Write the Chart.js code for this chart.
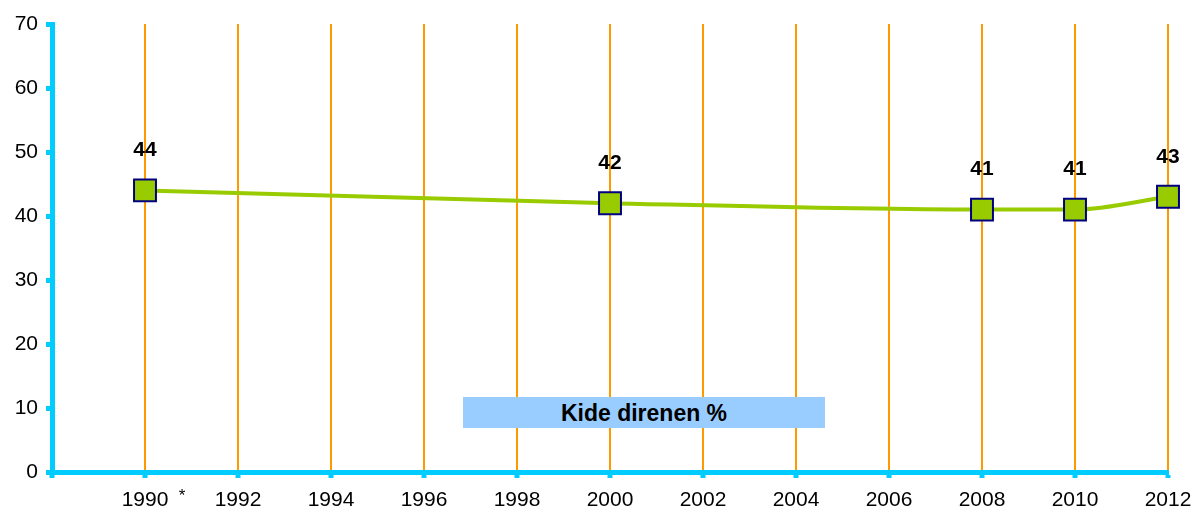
<!DOCTYPE html>
<html>
<head>
<meta charset="utf-8">
<script src="https://cdn.jsdelivr.net/npm/chart.js@4/dist/chart.umd.min.js"></script>
<style>
  html, body { margin: 0; padding: 0; background: #fff; }
  #wrap { position: relative; width: 1194px; height: 512px; }
  #legendBox {
    position: absolute; left: 463px; top: 397px; width: 362px; height: 31px;
    background: #99ccff; font: bold 23px "Liberation Sans", Arial, sans-serif;
    color: #000; text-align: center; line-height: 33px;
  }
</style>
</head>
<body>
<div id="wrap">
  <canvas id="chart" width="1194" height="512"></canvas>
  <div id="legendBox">Kide direnen %</div>
</div>
<script>
    const years = [1990, 2000, 2008, 2010, 2012];
    const values = [44, 42, 41, 41, 43];
    const yTicks = [0, 10, 20, 30, 40, 50, 60, 70];
    const xMin = 1988, xMax = 2012;

    /* ================= LABELS ================= */
    const labelsPlugin = {
        id: 'pointLabels',
        afterDatasetsDraw(chart) {
            const ctx = chart.ctx;
            const meta = chart.getDatasetMeta(0);
            ctx.save();
            ctx.font = 'bold 21px "Liberation Sans", Arial, sans-serif';
            ctx.fillStyle = '#000';
            ctx.textAlign = 'center';
            ctx.textBaseline = 'middle';
            meta.data.forEach((pt, i) => {
                ctx.fillText(values[i], pt.x, pt.y - 40);
            });
            // asterisk next to first year
            const xs = chart.scales.x;
            ctx.font = '17px "Liberation Sans", Arial, sans-serif';
            ctx.fillText('*', xs.getPixelForValue(1990) + 37, chart.chartArea.bottom + 24);
            ctx.restore();
        }
    };

    new Chart(document.getElementById('chart'), {
        type: 'line',
        data: {
            datasets: [{
                data: years.map((y, i) => ({ x: y, y: values[i] })),
                borderColor: '#99cc00',
                borderWidth: 4,
                cubicInterpolationMode: 'monotone',
                pointStyle: 'rect',
                pointRadius: 15.5,
                pointHoverRadius: 15.5,
                pointBackgroundColor: '#99cc00',
                pointBorderColor: '#000080',
                pointBorderWidth: 2,
                clip: false
            }]
        },
        options: {
            responsive: false,
            animation: false,
            events: [],
            layout: { padding: { top: 24, right: 26, left: 0, bottom: 0 } },
            plugins: {
                legend: { display: false },
                tooltip: { enabled: false }
            },
            scales: {
                x: {
                    type: 'linear',
                    min: xMin,
                    max: xMax,
                    afterFit(scale) {
                        scale.height = 40;
                        scale.paddingLeft = 0;
                        scale.paddingRight = 0;
                    },
                    afterBuildTicks(scale) {
                        const t = [];
                        for (let v = xMin; v <= xMax; v += 2) t.push({ value: v });
                        scale.ticks = t;
                    },
                    ticks: {
                        color: '#000',
                        font: { family: '"Liberation Sans", Arial, sans-serif', size: 21 },
                        padding: 10,
                        maxRotation: 0,
                        autoSkip: false,
                        callback: v => v === xMin ? '' : String(v)
                    },
                    grid: {
                        color: ctx => ctx.tick && ctx.tick.value === xMin ? 'rgba(0,0,0,0)' : '#ff9900',
                        lineWidth: 2,
                        tickColor: '#00ccff',
                        tickWidth: 5,
                        tickLength: 6
                    },
                    border: { color: '#00ccff', width: 5 }
                },
                y: {
                    min: 0,
                    max: 70,
                    afterFit(scale) {
                        scale.width = 52;
                        scale.paddingTop = 0;
                        scale.paddingBottom = 0;
                    },
                    afterBuildTicks(scale) {
                        scale.ticks = yTicks.map(v => ({ value: v }));
                    },
                    ticks: {
                        color: '#000',
                        font: { family: '"Liberation Sans", Arial, sans-serif', size: 21 },
                        padding: 8
                    },
                    grid: {
                        color: 'rgba(0,0,0,0)',
                        tickColor: '#00ccff',
                        tickWidth: 5,
                        tickLength: 6
                    },
                    border: { color: '#00ccff', width: 5 }
                }
            }
        },
        plugins: [labelsPlugin]
    });
</script>
</body>
</html>
